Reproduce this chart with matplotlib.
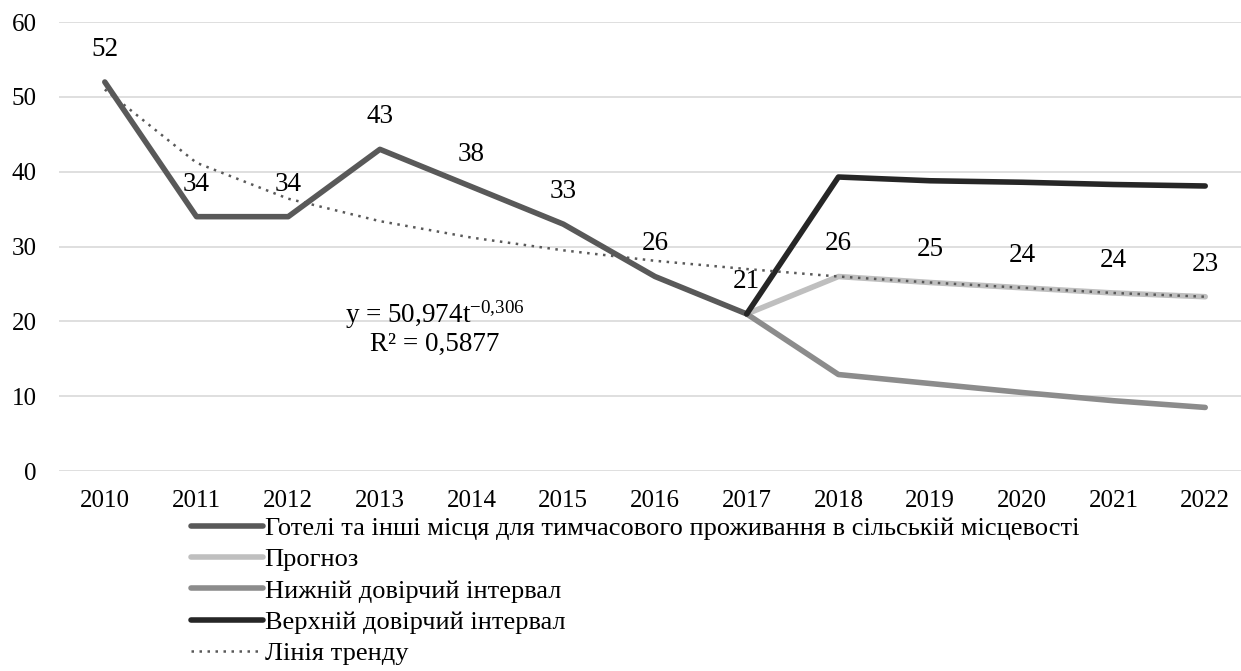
import matplotlib
matplotlib.use("Agg")
import matplotlib.pyplot as plt
import numpy as np

plt.rcParams['font.family'] = ['Liberation Serif', 'DejaVu Serif']
plt.rcParams['mathtext.fontset'] = 'custom'
plt.rcParams['mathtext.rm'] = 'Liberation Serif'
plt.rcParams['mathtext.it'] = 'Liberation Serif'

years = [str(y) for y in range(2010, 2023)]
fact = [52, 34, 34, 43, 38, 33, 26, 21]
prognoz = [21, 26.0, 25.2, 24.5, 23.8, 23.3]
nyzhnii = [21, 12.9, 11.7, 10.5, 9.4, 8.5]
verkhnii = [21, 39.3, 38.8, 38.6, 38.3, 38.1]
trend = [51.0, 41.2, 36.4, 33.4, 31.2, 29.5, 28.1, 27.0, 26.0, 25.2, 24.5, 23.8, 23.3]
prognoz_labels = ["26", "25", "24", "24", "23"]

x = np.arange(len(years))
xf = x[7:]

fig = plt.figure(figsize=(12.41, 6.71), dpi=100)
ax = fig.add_axes([0.0475, 0.298, 0.9525, 0.669])

for v in range(0, 70, 10):
    ax.axhline(v, color='#d9d9d9', lw=1.2, zorder=0)

l1, = ax.plot(x[:8], fact, color='#595959', lw=4, solid_capstyle='round', zorder=3)
l2, = ax.plot(xf, prognoz, color='#bfbfbf', lw=4, solid_capstyle='round', zorder=2)
l3, = ax.plot(xf, nyzhnii, color='#8c8c8c', lw=4, solid_capstyle='round', zorder=2)
l4, = ax.plot(xf, verkhnii, color='#262626', lw=4, solid_capstyle='round', zorder=3)
l5, = ax.plot(x, trend, color='#595959', lw=1.8, ls=(0, (1, 2.2)), zorder=4)

for i, v in enumerate(fact):
    ax.annotate(str(v), (x[i], v), xytext=(0, 23.5), textcoords='offset points',
                ha='center', va='center', fontsize=19.5)
for i, s in enumerate(prognoz_labels):
    ax.annotate(s, (xf[i + 1], prognoz[i + 1]), xytext=(0, 23.5), textcoords='offset points',
                ha='center', va='center', fontsize=19.5)

ax.text(3.6, 20.9, r"y = 50,974t$^{-0{,}306}$", ha='center', va='center', fontsize=19.5)
ax.text(3.6, 16.9, "R² = 0,5877", ha='center', va='center', fontsize=19.5)

ax.set_xlim(-0.5, 12.39)
ax.set_ylim(0, 60)
ax.set_yticks(range(0, 70, 10))
ax.set_xticks(x)
ax.set_xticklabels(years)
ax.tick_params(axis='x', length=0, labelsize=18, pad=14)
ax.tick_params(axis='y', length=0, labelsize=18, pad=16)
for s in ax.spines.values():
    s.set_visible(False)

fig.legend([l1, l2, l3, l4, l5],
           ["Готелі та інші місця для тимчасового проживання в сільській місцевості",
            "Прогноз", "Нижній довірчий інтервал", "Верхній довірчий інтервал", "Лінія тренду"],
           loc='upper left', bbox_to_anchor=(0.143, 0.25), frameon=False, fontsize=19,
           handlelength=2.75, handletextpad=0.05, labelspacing=0.3, borderpad=0)

fig.savefig("out.png", dpi=100)
